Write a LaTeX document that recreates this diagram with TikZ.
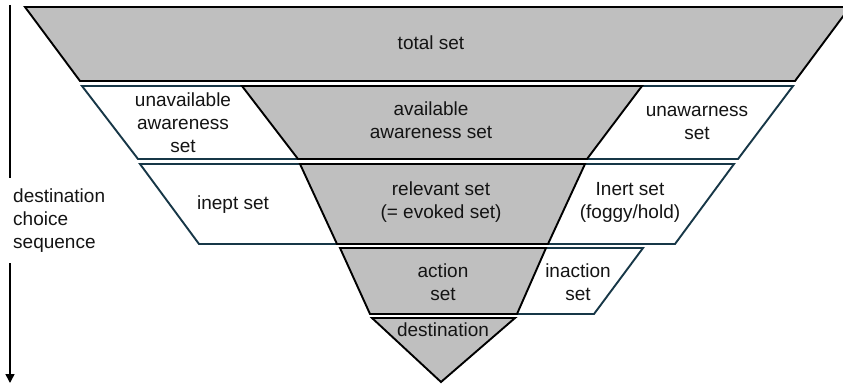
\documentclass[tikz,border=0pt]{standalone}
\usepackage{fontspec}
\setmainfont{Liberation Sans}
\usetikzlibrary{arrows.meta}
\definecolor{grayfill}{RGB}{191,191,191}
\definecolor{tealline}{RGB}{23,55,71}
\definecolor{txt}{RGB}{20,20,20}
\begin{document}
\begin{tikzpicture}[x=1pt,y=-1pt,
  graypart/.style={fill=grayfill,draw=black,line width=1.9pt,line join=miter},
  whitepart/.style={fill=white,draw=tealline,line width=1.9pt},
  lbl/.style={align=center,inner sep=0pt,text=txt,font=\fontsize{19}{23}\selectfont},
  seqline/.style={draw=black,line width=1.7pt}]
\useasboundingbox (0,0) rectangle (843,385);
% white bands
\draw[whitepart] (82,86) -- (793,86) -- (738,159) -- (138,159) -- cycle;
\draw[whitepart] (140,164) -- (734,164) -- (675,244) -- (199,244) -- cycle;
\draw[whitepart] (480,248) -- (643,248) -- (594,314) -- (470,314) -- cycle;
% gray parts
\draw[graypart] (25,7) -- (850,7) -- (795,81) -- (80,81) -- cycle;
\draw[graypart] (242,86) -- (642,86) -- (587,159) -- (298,159) -- cycle;
\draw[graypart] (300,164) -- (585,164) -- (548,244) -- (337,244) -- cycle;
\draw[graypart] (340,248) -- (546,248) -- (517,314) -- (370,314) -- cycle;
\draw[graypart] (372,318) -- (515,318) -- (441,382) -- cycle;
% labels
\node[lbl] (total) at (431,43) {total set};
\node[lbl] (avail) at (431,120) {available\\awareness set};
\node[lbl] (unavail) at (183,123) {unavailable\\awareness\\set};
\node[lbl] (unaware) at (697,123) {unawarness\\set};
\node[lbl] (relevant) at (441,202) {relevant set\\(= evoked set)};
\node[lbl] (inept) at (233,205) {inept set};
\node[lbl] (inert) at (630,202) {Inert set\\(foggy/hold)};
\node[lbl] (action) at (443,282) {action\\set};
\node[lbl] (inaction) at (578,282) {inaction\\set};
\node[lbl] (dest) at (443,330) {destination};
\node[lbl,align=left,anchor=west] (seq) at (13,221) {destination\\choice\\sequence};
% sequence arrow
\coordinate (s0) at (10,5);
\coordinate (s1) at (10,178);
\coordinate (s2) at (10,263);
\coordinate (s3) at (10,383);
\draw[seqline] (s0) -- (s1);
\draw[seqline,-{Triangle[length=9pt,width=9pt]}] (s2) -- (s3);
\end{tikzpicture}
\end{document}
